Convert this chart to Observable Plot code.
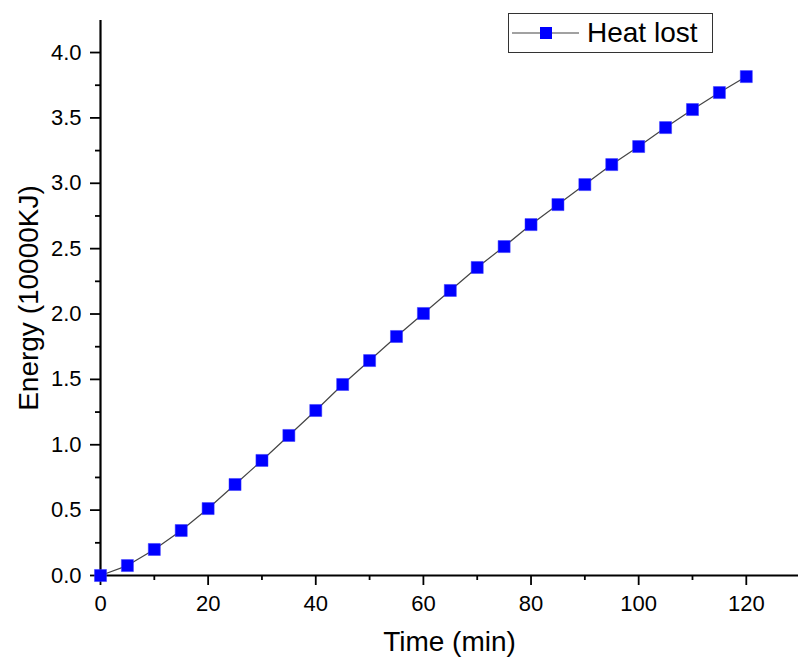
<!DOCTYPE html>
<html><head><meta charset="utf-8">
<script src="https://cdn.jsdelivr.net/npm/d3@7"></script>
<script src="https://cdn.jsdelivr.net/npm/@observablehq/plot@0.6"></script>
<style>
body{margin:0;background:#fff;}
#wrap{position:relative;width:798px;height:661px;font-family:"Liberation Sans",Arial,sans-serif;}
#legend{position:absolute;left:508px;top:13px;width:205px;height:40px;border:1.5px solid #333;box-sizing:border-box;background:#fff;}
#legend svg{position:absolute;left:0;top:0;}
#legend span{position:absolute;left:78px;top:3px;font-size:28px;line-height:32px;color:#000;}
</style></head><body><div id="wrap"></div>
<script>
const time = [0,5,10,15,20,25,30,35,40,45,50,55,60,65,70,75,80,85,90,95,100,105,110,115,120];
const energy = [0,0.076,0.199,0.344,0.512,0.696,0.88,1.071,1.262,1.461,1.644,1.828,2.004,2.18,2.356,2.516,2.684,2.837,2.99,3.143,3.281,3.426,3.564,3.694,3.816];
const xTicks = [0,20,40,60,80,100,120];
const xMinor = [10,30,50,70,90,110];
const yTicks = [0,0.5,1,1.5,2,2.5,3,3.5,4];
const yMinor = [0.25,0.75,1.25,1.75,2.25,2.75,3.25,3.75];
const seriesName = "Heat lost";
const xTitle = "Time (min)";
const yTitle = "Energy (10000KJ)";

const data = time.map((t,i)=>({time:t, energy:energy[i]}));
const chart = Plot.plot({
  width:798, height:661, marginLeft:100, marginRight:0, marginTop:20, marginBottom:86,
  style:{fontFamily:"Liberation Sans, Arial, sans-serif", fontSize:"22px", color:"#000", background:"#fff"},
  x:{domain:[0,129.7]},
  y:{domain:[0,4.245]},
  marks:[
    Plot.axisX(xTicks,{tickSize:10,tickPadding:10,fontSize:22,label:null,strokeWidth:1.8}),
    Plot.axisX(xMinor,{tickSize:5,text:null,label:null,strokeWidth:1.8}),
    Plot.axisY(yTicks,{tickSize:10,tickPadding:9,fontSize:22,label:null,strokeWidth:1.8,tickFormat:d=>d.toFixed(1)}),
    Plot.axisY(yMinor,{tickSize:5,text:null,label:null,strokeWidth:1.8}),
    Plot.ruleY([0],{strokeWidth:2.2}),
    Plot.ruleX([0],{strokeWidth:2.2}),
    Plot.line(data,{x:"time",y:"energy",stroke:"#444",strokeWidth:1.2}),
    Plot.dot(data,{x:"time",y:"energy",symbol:"square",r:6.8,fill:"#0000ff",stroke:"#3a3aff",strokeWidth:0.5}),
    Plot.text([xTitle],{frameAnchor:"bottom",dy:75,fontSize:28}),
    Plot.text([yTitle],{frameAnchor:"left",dx:-71,rotate:-90,textAnchor:"middle",fontSize:28})
  ]
});
const wrap = document.getElementById("wrap");
wrap.appendChild(chart);
const leg = document.createElement("div");
leg.id = "legend";
leg.innerHTML = `<svg width="80" height="38"><line x1="3" x2="70" y1="19" y2="19" stroke="#444" stroke-width="1.2"/><rect x="31" y="13" width="12" height="12" fill="#0000ff"/></svg><span>${seriesName}</span>`;
wrap.appendChild(leg);
</script></body></html>
